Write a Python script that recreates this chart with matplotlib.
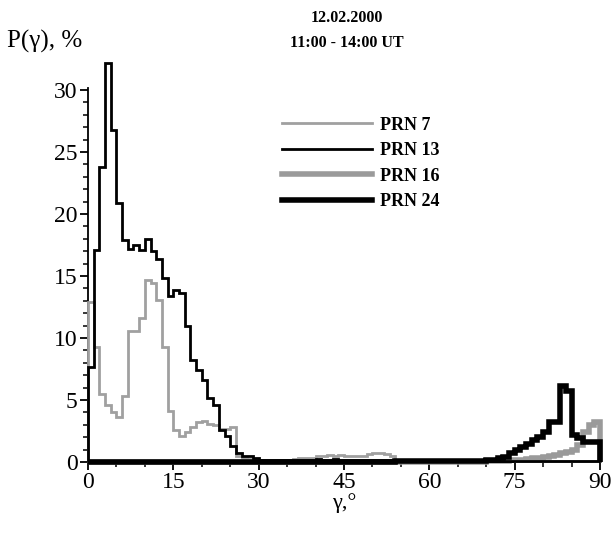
import numpy as np
import matplotlib
matplotlib.use("Agg")
import matplotlib.pyplot as plt
from matplotlib.ticker import MultipleLocator

plt.rcParams['font.family'] = ['Liberation Serif', 'DejaVu Serif']

# 1-degree bins of the zenith angle gamma, 0..90
edges = np.arange(0, 91, 1)

# PRN 7 (thin grey)
prn7 = [12.9, 9.3, 5.5, 4.6, 4.0, 3.65, 5.3, 10.6, 10.6, 11.6,
        14.7, 14.4, 13.1, 9.3, 4.1, 2.6, 2.1, 2.4, 2.8, 3.2,
        3.3, 3.1, 3.0, 2.7, 2.7, 2.85, 0.45, 0.35, 0.25, 0.2,
        0.15, 0.1, 0.1, 0.15, 0.15, 0.2, 0.25, 0.3, 0.3, 0.35,
        0.45, 0.5, 0.55, 0.5, 0.55, 0.5, 0.5, 0.45, 0.45, 0.65,
        0.7, 0.7, 0.65, 0.5, 0.2, 0.2, 0.15, 0.15, 0.2, 0.2,
        0.15, 0.15, 0.2, 0.2, 0.15, 0.15, 0.2, 0.15, 0.15, 0.15,
        0.15, 0.15, 0.15, 0.15, 0.15, 0.1, 0.1, 0.1, 0.1, 0.1,
        0.1, 0.1, 0.1, 0.1, 0.1, 0.1, 0.1, 0.1, 0.1, 0.1]

# PRN 13 (thin black)
prn13 = [7.7, 17.1, 23.8, 32.2, 26.8, 20.9, 17.9, 17.2, 17.5, 17.1,
         18.0, 17.0, 16.4, 14.8, 13.4, 13.9, 13.6, 11.0, 8.2, 7.4,
         6.6, 5.2, 4.6, 2.6, 2.1, 1.3, 0.7, 0.5, 0.5, 0.3,
         0.2, 0.2, 0.15, 0.15, 0.2, 0.2, 0.2, 0.15, 0.2, 0.2,
         0.25, 0.2, 0.2, 0.25, 0.2, 0.2, 0.2, 0.15, 0.2, 0.2,
         0.2, 0.2, 0.15, 0.15, 0.1, 0.1, 0.1, 0.1, 0.1, 0.1,
         0.1, 0.1, 0.1, 0.1, 0.1, 0.1, 0.1, 0.1, 0.1, 0.1,
         0.1, 0.1, 0.1, 0.1, 0.1, 0.1, 0.1, 0.1, 0.1, 0.1,
         0.1, 0.1, 0.1, 0.1, 0.1, 0.1, 0.1, 0.1, 0.1, 0.1]

# PRN 16 (thick grey)
prn16 = [0.0] * 70 + [0.05, 0.05, 0.1, 0.1, 0.15, 0.15, 0.2, 0.25, 0.3, 0.35,
                      0.4, 0.5, 0.6, 0.7, 0.8, 0.97, 1.35, 2.4, 3.0, 3.2]

# PRN 24 (thick black)
prn24 = [0.0] * 54 + [0.1, 0.1, 0.1, 0.1, 0.1, 0.1, 0.1, 0.1, 0.1, 0.1,
                      0.1, 0.1, 0.1, 0.1, 0.1, 0.1, 0.15, 0.2, 0.3, 0.37,
                      0.7, 1.0, 1.2, 1.45, 1.8, 2.0, 2.45, 3.25, 3.25, 6.1,
                      5.7, 2.2, 1.9, 1.65, 1.6, 1.6]

labels = ["PRN 7", "PRN 13", "PRN 16", "PRN 24"]

fig = plt.figure(figsize=(6.14, 5.33), dpi=100)
ax = fig.add_axes([0.1433, 0.1332, 0.8339, 0.7026])

h16 = ax.stairs(prn16, edges, baseline=0, color='#9a9a9a', lw=4.0, clip_on=False, zorder=2)
h7 = ax.stairs(prn7, edges, baseline=0, color='#a0a0a0', lw=2.0, clip_on=False, zorder=3)
h13 = ax.stairs(prn13, edges, baseline=0, color='black', lw=2.0, clip_on=False, zorder=4)
h24 = ax.stairs(prn24, edges, baseline=0, color='black', lw=4.0, clip_on=False, zorder=5)

ax.set_xlim(0, 90)
ax.set_ylim(0, 30.2)
ax.xaxis.set_major_locator(MultipleLocator(15))
ax.xaxis.set_minor_locator(MultipleLocator(5))
ax.yaxis.set_major_locator(MultipleLocator(5))
ax.yaxis.set_minor_locator(MultipleLocator(1))
ax.tick_params(which='major', direction='out', length=5.5, width=1.3, labelsize=17, pad=2)
ax.tick_params(which='minor', direction='out', length=3.5, width=1.1)
for s in ['top', 'right']:
    ax.spines[s].set_visible(False)
for s in ['left', 'bottom']:
    ax.spines[s].set_linewidth(1.3)

ax.set_xlabel("γ,°", fontsize=16, labelpad=0)
fig.text(0.012, 0.923, "P(γ), %", fontsize=18, ha='left', va='center')
fig.text(0.565, 0.966, "12.02.2000", fontsize=11.5, fontweight='bold', ha='center', va='center')
fig.text(0.565, 0.920, "11:00 - 14:00 UT", fontsize=11.5, fontweight='bold', ha='center', va='center')

ax.legend([h7, h13, h16, h24], labels, loc='upper left', bbox_to_anchor=(0.459, 0.781),
          bbox_transform=fig.transFigure, frameon=False, borderpad=0, borderaxespad=0,
          handlelength=5.0, handletextpad=0.45, labelspacing=0.47,
          prop={'size': 13, 'weight': 'bold'})

plt.savefig("out.png", dpi=100)
